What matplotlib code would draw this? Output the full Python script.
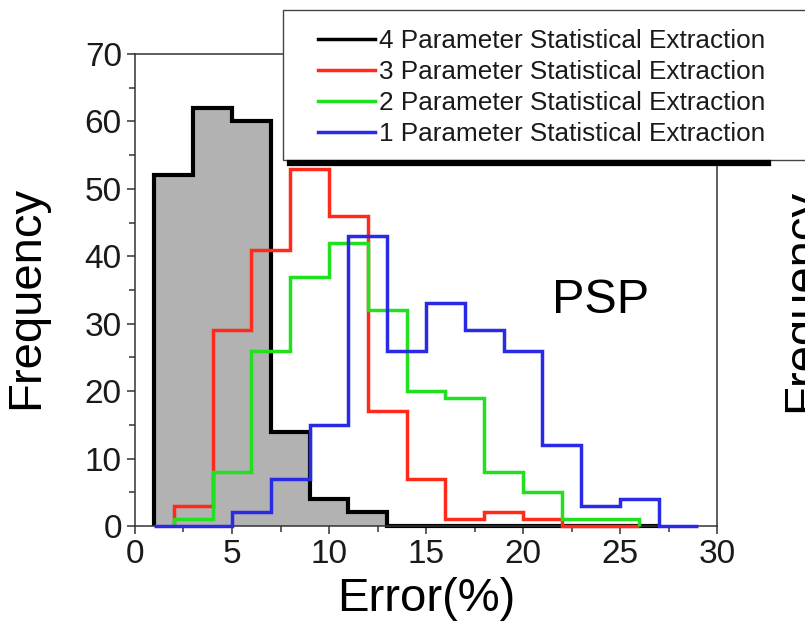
import matplotlib.pyplot as plt
from matplotlib.patches import Rectangle
from matplotlib.lines import Line2D
from matplotlib.ticker import MultipleLocator

plt.rcParams['font.family'] = ['Liberation Sans', 'DejaVu Sans']

# histogram bins (Error %, width 2) and counts for each extraction
edges_4p = [1, 3, 5, 7, 9, 11, 13, 15, 17, 19, 21, 23, 25, 27]
freq_4p = [52, 62, 60, 14, 4, 2, 0, 0, 0, 0, 0, 0, 0]

edges_3p = [2, 4, 6, 8, 10, 12, 14, 16, 18, 20, 22, 24, 26]
freq_3p = [3, 29, 41, 53, 46, 17, 7, 1, 2, 1, 0, 0]

edges_2p = [2, 4, 6, 8, 10, 12, 14, 16, 18, 20, 22, 24, 26]
freq_2p = [1, 8, 26, 37, 42, 32, 20, 19, 8, 5, 1, 1]

edges_1p = [1, 3, 5, 7, 9, 11, 13, 15, 17, 19, 21, 23, 25, 27, 29]
freq_1p = [0, 0, 2, 7, 15, 43, 26, 33, 29, 26, 12, 3, 4, 0]

labels = ['4 Parameter Statistical Extraction',
          '3 Parameter Statistical Extraction',
          '2 Parameter Statistical Extraction',
          '1 Parameter Statistical Extraction']
colors = ['black', '#ff2a1a', '#20e020', '#2a2ae6']

fig = plt.figure(figsize=(8.05, 6.29), dpi=100)
ax = fig.add_axes([0.1677, 0.1638, 0.7230, 0.7503])

ax.stairs(freq_4p, edges_4p, fill=True, color='#b2b2b2', zorder=1)
ax.stairs(freq_4p, edges_4p, color=colors[0], lw=3.0, zorder=2, clip_on=False)
ax.stairs(freq_3p, edges_3p, color=colors[1], lw=2.5, zorder=3, clip_on=False)
ax.stairs(freq_2p, edges_2p, color=colors[2], lw=2.5, zorder=4, clip_on=False)
ax.stairs(freq_1p, edges_1p, color=colors[3], lw=2.5, zorder=5, clip_on=False)

ax.set_xlim(0, 30)
ax.set_ylim(0, 70)
ax.xaxis.set_major_locator(MultipleLocator(5))
ax.xaxis.set_minor_locator(MultipleLocator(2.5))
ax.yaxis.set_major_locator(MultipleLocator(10))
ax.yaxis.set_minor_locator(MultipleLocator(5))
ax.tick_params(which='both', direction='out', labelsize=24, color='#333333',
               labelcolor='#1a1a1a')
ax.tick_params(which='major', length=6, width=1.1)
ax.tick_params(which='minor', length=4, width=1.1)
for s in ax.spines.values():
    s.set_linewidth(1.1)
    s.set_color('#333333')

ax.set_xlabel('Error(%)', fontsize=34, labelpad=5)
ax.set_ylabel('Frequency', fontsize=34)
ax.yaxis.set_label_coords(-0.149, 0.484)
ax.text(21.5, 33.5, 'PSP', fontsize=35, va='center')

# legend box with heavy bottom shadow, running off the right edge
box = Rectangle((283 / 805, 1 - 160 / 629), 560 / 805, 150 / 629,
                transform=fig.transFigure, facecolor='white',
                edgecolor='#444444', lw=1.0, zorder=10)
fig.patches.append(box)
fig.add_artist(Line2D([290 / 805, 768 / 805], [1 - 163 / 629, 1 - 163 / 629],
                      transform=fig.transFigure, color='black', lw=4.5,
                      zorder=11))

handles = [Line2D([], [], color=c, lw=2.5) for c in colors]
leg = fig.legend(handles, labels, loc='upper left',
                 bbox_to_anchor=(318 / 805, 1 - 29 / 629),
                 bbox_transform=fig.transFigure, frameon=False, fontsize=18.8,
                 handlelength=2.2, handletextpad=0.15, labelspacing=0.27,
                 borderpad=0, borderaxespad=0)
leg.set_zorder(12)
for t in leg.get_texts():
    t.set_color('#1a1a1a')

# neighbouring panel's axis label, cut by the figure edge
fig.text(780 / 805, 1 - 300 / 629, 'Frequency', rotation=90, fontsize=34,
         va='center', ha='left')

fig.savefig('out.png', dpi=100)
